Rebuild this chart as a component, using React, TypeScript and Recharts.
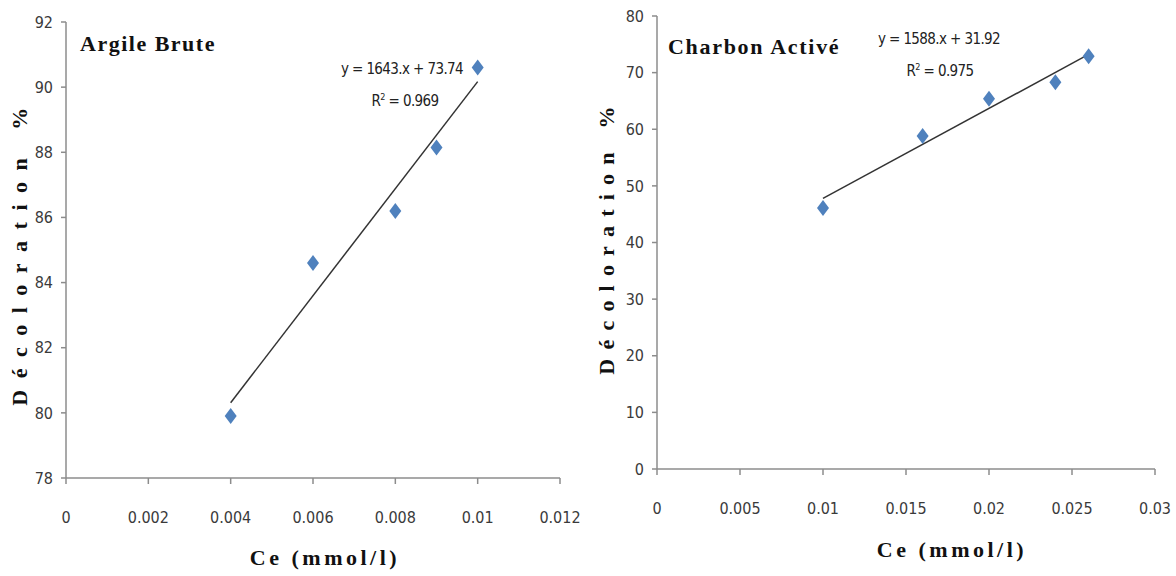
import React from "react"
import { ReferenceLine, Scatter, ScatterChart, XAxis, YAxis } from "recharts"

// Argile brute : décoloration vs concentration à l'équilibre
const argileCe = [0.004, 0.006, 0.008, 0.009, 0.01]
const argileDecoloration = [79.9, 84.6, 86.2, 88.15, 90.6]
const argileFit = { slope: 1643, intercept: 73.74, r2: "0.969" }
const argileTicksX = [0, 0.002, 0.004, 0.006, 0.008, 0.01, 0.012]
const argileTicksY = [78, 80, 82, 84, 86, 88, 90, 92]

// Charbon actif
const charbonCe = [0.01, 0.016, 0.02, 0.024, 0.026]
const charbonDecoloration = [46.1, 58.8, 65.4, 68.3, 72.9]
const charbonFit = { slope: 1588, intercept: 31.92, r2: "0.975" }
const charbonTicksX = [0, 0.005, 0.01, 0.015, 0.02, 0.025, 0.03]
const charbonTicksY = [0, 10, 20, 30, 40, 50, 60, 70, 80]

const MARKER = "#4F81BD"
const AXIS = "#8c8c8c"
const tickFont = {
  fontFamily: "'Liberation Sans Narrow', 'DejaVu Sans Condensed', 'Arial Narrow', sans-serif",
  fontSize: 16,
  fill: "#3a3a3a",
}
const serifBold: React.CSSProperties = {
  position: "absolute",
  fontFamily: "'Liberation Serif', 'Times New Roman', serif",
  fontWeight: "bold",
  color: "#111",
  whiteSpace: "nowrap",
}
const eqFont: React.CSSProperties = {
  position: "absolute",
  fontFamily: "'Liberation Sans Narrow', 'DejaVu Sans Condensed', 'Arial Narrow', sans-serif",
  fontSize: 15,
  letterSpacing: -0.6,
  color: "#222",
  whiteSpace: "nowrap",
  transform: "translateX(-50%)",
}

const Diamond = (props: any) => {
  const { cx, cy } = props
  return (
    <polygon
      points={`${cx},${cy - 8} ${cx + 6},${cy} ${cx},${cy + 8} ${cx - 6},${cy}`}
      fill={MARKER}
    />
  )
}

const pairs = (xs: number[], ys: number[]) => xs.map((x, i) => ({ x, y: ys[i] }))

type PanelProps = {
  points: { x: number; y: number }[]
  fit: { slope: number; intercept: number }
  ticksX: number[]
  ticksY: number[]
  width: number
  yAxisWidth: number
  top: number
  right: number
  xAxisHeight: number
}

function Panel({ points, fit, ticksX, ticksY, width, yAxisWidth, top, right, xAxisHeight }: PanelProps) {
  const xs = points.map((p) => p.x)
  const x0 = Math.min(...xs)
  const x1 = Math.max(...xs)
  return (
    <ScatterChart width={width} height={576} margin={{ top, right, bottom: 0, left: 0 }}>
      <XAxis
        type="number"
        dataKey="x"
        domain={[ticksX[0], ticksX[ticksX.length - 1]]}
        ticks={ticksX}
        interval={0}
        height={xAxisHeight}
        stroke={AXIS}
        strokeWidth={1.5}
        tickSize={6}
        tickMargin={28}
        tick={tickFont}
      />
      <YAxis
        type="number"
        dataKey="y"
        domain={[ticksY[0], ticksY[ticksY.length - 1]]}
        ticks={ticksY}
        interval={0}
        width={yAxisWidth}
        stroke={AXIS}
        strokeWidth={1.5}
        tickSize={5}
        tickMargin={8}
        tick={tickFont}
      />
      <ReferenceLine
        segment={[
          { x: x0, y: fit.slope * x0 + fit.intercept },
          { x: x1, y: fit.slope * x1 + fit.intercept },
        ]}
        stroke="#333"
        strokeWidth={1.5}
        ifOverflow="visible"
      />
      <Scatter data={points} shape={Diamond} isAnimationActive={false} />
    </ScatterChart>
  )
}

export default function App() {
  return (
    <div style={{ position: "fixed", left: 0, top: 0, width: 1176, height: 576, background: "#fff" }}>
      <div style={{ position: "absolute", left: 0, top: 0 }}>
        <Panel
          points={pairs(argileCe, argileDecoloration)}
          fit={argileFit}
          ticksX={argileTicksX}
          ticksY={argileTicksY}
          width={590}
          yAxisWidth={66}
          top={22}
          right={30}
          xAxisHeight={98}
        />
      </div>
      <div style={{ position: "absolute", left: 590, top: 0 }}>
        <Panel
          points={pairs(charbonCe, charbonDecoloration)}
          fit={charbonFit}
          ticksX={charbonTicksX}
          ticksY={charbonTicksY}
          width={586}
          yAxisWidth={67}
          top={16}
          right={21}
          xAxisHeight={107}
        />
      </div>

      <div style={{ ...serifBold, left: 80, top: 31, fontSize: 22, letterSpacing: 1.5 }}>Argile Brute</div>
      <div style={{ ...serifBold, left: 668, top: 34, fontSize: 22, letterSpacing: 1.7 }}>Charbon Activé</div>

      <div style={{ ...eqFont, left: 402, top: 60 }}>y = {argileFit.slope}.x + {argileFit.intercept}</div>
      <div style={{ ...eqFont, left: 405, top: 92 }}>
        R<sup style={{ fontSize: 9 }}>2</sup> = {argileFit.r2}
      </div>
      <div style={{ ...eqFont, left: 939, top: 30 }}>y = {charbonFit.slope}.x + {charbonFit.intercept}</div>
      <div style={{ ...eqFont, left: 940, top: 62 }}>
        R<sup style={{ fontSize: 9 }}>2</sup> = {charbonFit.r2}
      </div>

      <div
        style={{
          ...serifBold,
          left: 20,
          top: 251,
          fontSize: 22,
          letterSpacing: 11.5,
          transform: "translate(-50%, -50%) rotate(-90deg)",
        }}
      >
        Décoloration %
      </div>
      <div
        style={{
          ...serifBold,
          left: 607,
          top: 236,
          fontSize: 22,
          letterSpacing: 9.2,
          transform: "translate(-50%, -50%) rotate(-90deg)",
        }}
      >
        Décoloration %
      </div>

      <div style={{ ...serifBold, left: 325, top: 545, fontSize: 22, letterSpacing: 3.5, transform: "translateX(-50%)" }}>
        Ce (mmol/l)
      </div>
      <div style={{ ...serifBold, left: 952, top: 537, fontSize: 22, letterSpacing: 3.5, transform: "translateX(-50%)" }}>
        Ce (mmol/l)
      </div>
    </div>
  )
}
